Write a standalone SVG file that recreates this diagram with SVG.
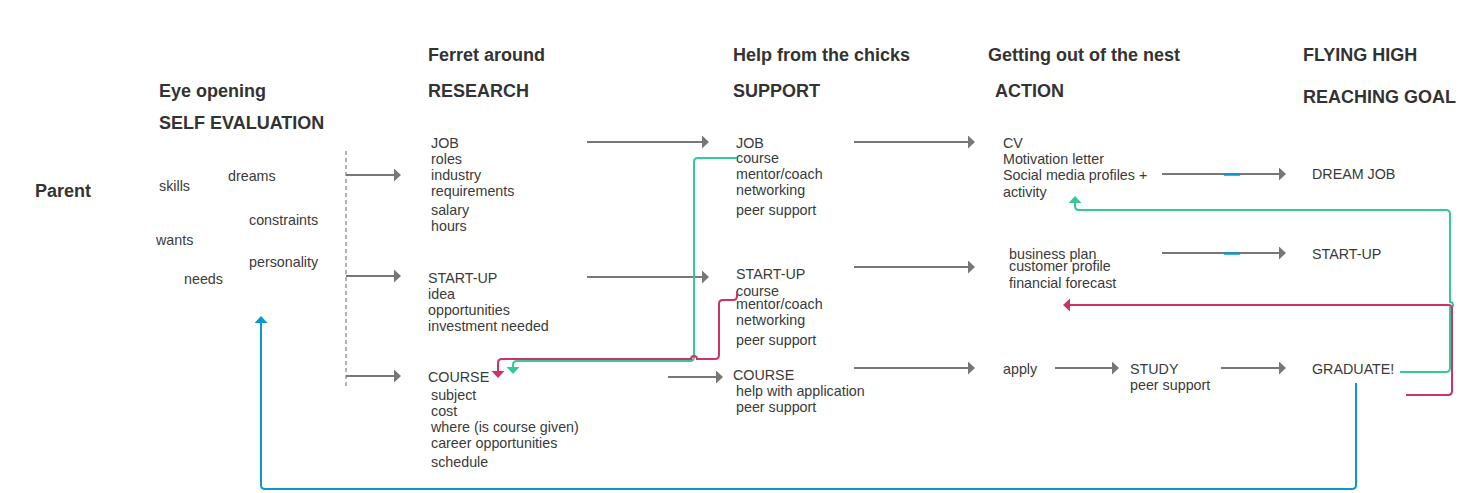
<svg xmlns="http://www.w3.org/2000/svg" width="1470" height="493" viewBox="0 0 1470 493">
<style>
text{font-family:"Liberation Sans",Arial,sans-serif;fill:#3a3a3a;font-size:14.3px}
.h{font-weight:bold;font-size:18px;fill:#333}
.g{fill:none;stroke:#777;stroke-width:2}
.gr{fill:none;stroke:#33c998;stroke-width:2}
.rd{fill:none;stroke:#cc3366;stroke-width:2}
.bl{fill:none;stroke:#0b98cc;stroke-width:2}
</style>
<defs>
<marker id="ag" markerUnits="userSpaceOnUse" markerWidth="8" markerHeight="14" refX="0" refY="6.5" orient="auto"><path d="M0,0 L7,6.5 L0,13 z" fill="#777"/></marker>
<marker id="agr" markerUnits="userSpaceOnUse" markerWidth="8" markerHeight="14" refX="0" refY="6.5" orient="auto"><path d="M0,0 L7,6.5 L0,13 z" fill="#33c998"/></marker>
<marker id="ard" markerUnits="userSpaceOnUse" markerWidth="8" markerHeight="14" refX="0" refY="6.5" orient="auto"><path d="M0,0 L7,6.5 L0,13 z" fill="#cc3366"/></marker>
<marker id="abl" markerUnits="userSpaceOnUse" markerWidth="8" markerHeight="14" refX="0" refY="6.5" orient="auto"><path d="M0,0 L7,6.5 L0,13 z" fill="#0b98cc"/></marker>
</defs>
<rect width="1470" height="493" fill="#fff"/>

<g id="parent"><text class="h" x="35" y="197">Parent</text></g>

<g id="header-self"><text class="h" x="159" y="97">Eye opening</text><text class="h" x="159" y="129">SELF EVALUATION</text></g>
<g id="header-research"><text class="h" x="428" y="61">Ferret around</text><text class="h" x="428" y="97">RESEARCH</text></g>
<g id="header-support"><text class="h" x="733" y="61">Help from the chicks</text><text class="h" x="733" y="97">SUPPORT</text></g>
<g id="header-action"><text class="h" x="988" y="61">Getting out of the nest</text><text class="h" x="995" y="97">ACTION</text></g>
<g id="header-goal"><text class="h" x="1303" y="61">FLYING HIGH</text><text class="h" x="1303" y="103">REACHING GOAL</text></g>

<g id="self-evaluation">
<text x="159" y="190.5">skills</text>
<text x="228" y="180.5">dreams</text>
<text x="249" y="224.5">constraints</text>
<text x="156" y="244.5">wants</text>
<text x="249" y="266.5">personality</text>
<text x="184" y="283.5">needs</text>
</g>

<g id="research-job">
<text x="431" y="148">JOB</text>
<text x="431" y="164">roles</text>
<text x="431" y="180">industry</text>
<text x="431" y="196">requirements</text>
<text x="431" y="215">salary</text>
<text x="431" y="231">hours</text>
</g>
<g id="research-startup">
<text x="428" y="283">START-UP</text>
<text x="428" y="299">idea</text>
<text x="428" y="315">opportunities</text>
<text x="428" y="331">investment needed</text>
</g>
<g id="research-course">
<text x="428" y="382">COURSE</text>
<text x="431" y="400">subject</text>
<text x="431" y="416">cost</text>
<text x="431" y="432">where (is course given)</text>
<text x="431" y="448">career opportunities</text>
<text x="431" y="467">schedule</text>
</g>

<g id="support-job">
<text x="736" y="147.5">JOB</text>
<text x="736" y="163">course</text>
<text x="736" y="179">mentor/coach</text>
<text x="736" y="195">networking</text>
<text x="736" y="214.5">peer support</text>
</g>
<g id="support-startup">
<text x="736" y="279">START-UP</text>
<text x="736" y="296">course</text>
<text x="736" y="309">mentor/coach</text>
<text x="736" y="325">networking</text>
<text x="736" y="344.5">peer support</text>
</g>
<g id="support-course">
<text x="733" y="380">COURSE</text>
<text x="736" y="396">help with application</text>
<text x="736" y="412">peer support</text>
</g>

<g id="action-job">
<text x="1003" y="148">CV</text>
<text x="1003" y="164">Motivation letter</text>
<text x="1003" y="180">Social media profiles +</text>
<text x="1003" y="197">activity</text>
</g>
<g id="action-startup">
<text x="1009" y="258.5">business plan</text>
<text x="1009" y="271">customer profile</text>
<text x="1009" y="287.5">financial forecast</text>
</g>
<g id="action-apply"><text x="1003" y="373.5">apply</text></g>
<g id="action-study"><text x="1130" y="373.5">STUDY</text><text x="1130" y="389.5">peer support</text></g>

<g id="goal-dreamjob"><text x="1312" y="179">DREAM JOB</text></g>
<g id="goal-startup"><text x="1312" y="258.5">START-UP</text></g>
<g id="goal-graduate"><text x="1312" y="373.5">GRADUATE!</text></g>

<g id="connectors">
<path d="M346,151 V387" fill="none" stroke="#999" stroke-width="1.5" stroke-dasharray="4 3"/>
<path class="g" d="M346,175 H394" marker-end="url(#ag)"/>
<path class="g" d="M346,276 H394" marker-end="url(#ag)"/>
<path class="g" d="M346,376 H394" marker-end="url(#ag)"/>
<path class="g" d="M587,142 H702" marker-end="url(#ag)"/>
<path class="g" d="M587,277 H702" marker-end="url(#ag)"/>
<path class="g" d="M668,377 H716" marker-end="url(#ag)"/>
<path class="g" d="M854,142 H968" marker-end="url(#ag)"/>
<path class="g" d="M854,267 H968" marker-end="url(#ag)"/>
<path class="g" d="M854,368 H968" marker-end="url(#ag)"/>
<path class="g" d="M1055,368 H1112" marker-end="url(#ag)"/>
<path class="g" d="M1221,368 H1279" marker-end="url(#ag)"/>
<path class="g" d="M1162,174 H1279" marker-end="url(#ag)"/>
<path class="g" d="M1162,253 H1279" marker-end="url(#ag)"/>
<path d="M1224,174.5 H1240 M1224,253.5 H1240" fill="none" stroke="#0b98cc" stroke-width="2.5"/>

<path class="gr" d="M737,158 H698 Q694,158 694,162 V357 Q694,361 690,361 H517 Q513,361 513,365 V367" marker-end="url(#agr)"/>
<path class="rd" d="M737,291 V296 Q737,300 733,300 H723 Q719,300 719,304 V355 Q719,359 715,359 H697 A3,3 0 0,0 691,359 H502 Q498,359 498,363 V371" marker-end="url(#ard)"/>

<path class="gr" d="M1400,372 H1446 Q1450,372 1450,368 V308 A3,3 0 0,0 1450,302 V214 Q1450,210 1446,210 H1079 Q1075,210 1075,206 V203" marker-end="url(#agr)"/>
<path class="rd" d="M1406,395 H1448 Q1452,395 1452,391 V309 Q1452,305 1448,305 H1070" marker-end="url(#ard)"/>

<path class="bl" d="M1356,383 V485 Q1356,489 1352,489 H265 Q261,489 261,485 V323" marker-end="url(#abl)"/>
</g>
</svg>
